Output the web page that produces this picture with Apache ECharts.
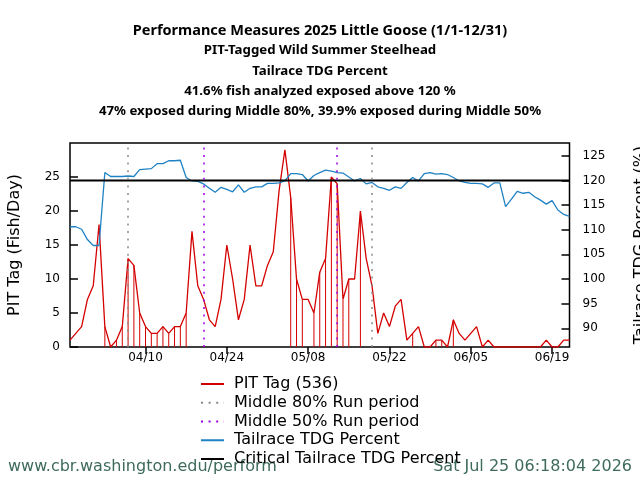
<!DOCTYPE html>
<html>
<head>
<meta charset="utf-8">
<script src="https://cdn.jsdelivr.net/npm/echarts@6/dist/echarts.min.js"></script>
<style>
    html, body {margin: 0; padding: 0; background: #fff;}
    #app {width: 640px; height: 480px;}
</style>
</head>
<body>
<div id="app"></div>
<script>
//天数从 03/28 开始 (day 0)
var pitTag = [1, 2, 3, 7, 9, 18, 3, 0, 1, 3,
    13, 12, 5, 3, 2, 2, 3, 2, 3, 3,
    5, 17, 9, 7, 4, 3, 7, 15, 10, 4,
    7, 15, 9, 9, 12, 14, 23, 29, 22, 10,
    7, 7, 5, 11, 13, 25, 24, 7, 10, 10,
    20, 13, 9, 2, 5, 3, 6, 7, 1, 2,
    3, 0, 0, 1, 1, 0, 4, 2, 1, 2,
    3, 0, 1, 0, 0, 0, 0, 0, 0, 0,
    0, 0, 1, 0, 0, 1, 1]

var tdgPercent = [110.6, 110.6, 110.1, 108.0, 106.8, 106.8, 121.6, 120.8, 120.8, 120.8,
    120.9, 120.8, 122.2, 122.3, 122.4, 123.4, 123.4, 124.0, 124.0, 124.1,
    120.6, 119.9, 119.8, 119.3, 118.4, 117.6, 118.6, 118.2, 117.7, 119.1,
    117.6, 118.4, 118.7, 118.7, 119.4, 119.4, 119.5, 119.9, 121.4, 121.4,
    121.2, 119.9, 121.0, 121.6, 122.1, 121.9, 121.6, 121.5, 120.7, 119.9,
    120.4, 119.3, 119.6, 118.7, 118.4, 118.0, 118.7, 118.4, 119.6, 120.6,
    119.9, 121.4, 121.6, 121.3, 121.4, 121.2, 120.6, 119.9, 119.6, 119.4,
    119.4, 119.3, 118.6, 119.5, 119.5, 114.7, 116.2, 117.8, 117.4, 117.6,
    116.7, 116.0, 115.2, 115.9, 114.0, 113.1, 112.7]

var criticalTdg = 120
var run80 = [10, 52]
var run50 = [23, 46]

var xTickDays = [13, 27, 41, 55, 69, 83]
var xTickLabels = ['04/10', '04/24', '05/08', '05/22', '06/05', '06/19']
var rightTicks = [90, 95, 100, 105, 110, 115, 120, 125]

var titleMain = 'Performance Measures 2025 Little Goose (1/1-12/31)'
var titleLines = [
    'PIT-Tagged Wild Summer Steelhead',
    'Tailrace TDG Percent',
    '41.6% fish analyzed exposed above 120 %',
    '47% exposed during Middle 80%, 39.9% exposed during Middle 50%'
]

var lastDay = pitTag.length - 1
var pitData = pitTag.map((v, i) => [i, v])
var tdgData = tdgPercent.map((v, i) => [i, v])
var critData = [[0, criticalTdg], [lastDay, criticalTdg]]

//TDG 超过临界值的日子画竖线
var exposedData = []
for (var i = 0; i < pitTag.length; i++) {
    if (tdgPercent[i] > criticalTdg && pitTag[i] > 0) {
        exposedData.push([i, pitTag[i]])
    }
}

var font = 'DejaVu Sans'

var runLine = (days, color) => ({
    symbol: ['none', 'none'],
    silent: true,
    label: {show: false},
    lineStyle: {color: color, type: [2, 5.6], width: 1.5},
    data: days.map((d) => ({xAxis: d}))
})

var chart = echarts.init(document.getElementById('app'), null, {renderer: 'canvas'})

chart.setOption({
    animation: false,
    backgroundColor: '#fff',
    title: [
        {
            text: titleMain,
            left: 'center',
            top: 20.7,
            padding: 0,
            textStyle: {fontFamily: 'Noto Sans', fontSize: 14.5, fontWeight: 'bold', color: '#000', lineHeight: 20}
        },
        {
            text: titleLines.join('\n'),
            left: 'center',
            top: 40.5,
            padding: 0,
            textStyle: {fontFamily: 'Noto Sans', fontSize: 13.25, fontWeight: 'bold', color: '#000', lineHeight: 20.33}
        }
    ],
    legend: {
        orient: 'vertical',
        left: 195,
        top: 371,
        itemWidth: 23,
        itemHeight: 12,
        itemGap: 2.75,
        itemStyle: {opacity: 0},
        textStyle: {fontFamily: font, fontSize: 16, color: '#000', lineHeight: 16, padding: [0, 0, 0, 5]},
        data: ['PIT Tag (536)', 'Middle 80% Run period', 'Middle 50% Run period',
            'Tailrace TDG Percent', 'Critical Tailrace TDG Percent']
    },
    grid: {
        left: 70,
        right: 70.5,
        top: 143,
        bottom: 133,
        outerBoundsMode: 'none',
        containLabel: false,
        show: true,
        borderColor: '#000',
        borderWidth: 1.5
    },
    xAxis: {
        type: 'value',
        min: 0,
        max: lastDay,
        splitLine: {show: false},
        axisLine: {show: false},
        axisTick: {
            show: true,
            length: 7,
            lineStyle: {color: '#000', width: 1.5},
            customValues: xTickDays
        },
        axisLabel: {
            margin: 5,
            fontFamily: font,
            fontSize: 12,
            color: '#000',
            customValues: xTickDays,
            formatter: (v) => xTickLabels[xTickDays.indexOf(v)]
        }
    },
    yAxis: [
        {
            type: 'value',
            min: 0,
            max: 30,
            interval: 5,
            name: 'PIT Tag (Fish/Day)',
            nameLocation: 'middle',
            nameRotate: 90,
            nameGap: 47,
            nameTextStyle: {fontFamily: font, fontSize: 16, color: '#000'},
            splitLine: {show: false},
            axisLine: {show: false},
            axisTick: {inside: true, length: 8, lineStyle: {color: '#000', width: 1.5}},
            axisLabel: {margin: 10, fontFamily: font, fontSize: 12, color: '#000', showMaxLabel: false}
        },
        {
            type: 'value',
            position: 'right',
            min: 86.2,
            max: 127.6,
            name: 'Tailrace TDG Percent (%)',
            nameLocation: 'middle',
            nameRotate: 90,
            nameGap: 63,
            nameTextStyle: {fontFamily: font, fontSize: 16, color: '#000'},
            splitLine: {show: false},
            axisLine: {show: false},
            axisTick: {
                inside: true,
                length: 8,
                lineStyle: {color: '#000', width: 1.5},
                customValues: rightTicks
            },
            axisLabel: {
                margin: 13,
                fontFamily: font,
                fontSize: 12,
                color: '#000',
                customValues: rightTicks
            }
        }
    ],
    series: [
        {
            name: 'exposed',
            type: 'bar',
            barWidth: 1,
            silent: true,
            itemStyle: {color: '#d40000'},
            data: exposedData
        },
        {
            name: 'PIT Tag (536)',
            type: 'line',
            symbol: 'none',
            color: '#d40000',
            lineStyle: {color: '#d40000', width: 1.3},
            data: pitData
        },
        {
            name: 'Middle 80% Run period',
            type: 'line',
            symbol: 'none',
            color: '#888',
            lineStyle: {color: '#888', type: [2, 5.6], width: 1.5},
            data: [],
            markLine: runLine(run80, '#888')
        },
        {
            name: 'Middle 50% Run period',
            type: 'line',
            symbol: 'none',
            color: '#9b00e6',
            lineStyle: {color: '#9b00e6', type: [2, 5.6], width: 1.5},
            data: [],
            markLine: runLine(run50, '#9b00e6')
        },
        {
            name: 'Tailrace TDG Percent',
            type: 'line',
            yAxisIndex: 1,
            symbol: 'none',
            color: '#1f82c4',
            lineStyle: {color: '#1f82c4', width: 1.3},
            data: tdgData
        },
        {
            name: 'Critical Tailrace TDG Percent',
            type: 'line',
            yAxisIndex: 1,
            symbol: 'none',
            color: '#000',
            lineStyle: {color: '#000', width: 2},
            data: critData
        }
    ],
    graphic: [
        {
            type: 'text',
            left: 8,
            top: 459,
            style: {text: 'www.cbr.washington.edu/perform', font: '16px "DejaVu Sans"', fill: '#3e6b5b'}
        },
        {
            type: 'text',
            right: 8,
            top: 459,
            style: {text: 'Sat Jul 25 06:18:04 2026', font: '16px "DejaVu Sans"', fill: '#3e6b5b'}
        }
    ]
})
</script>
</body>
</html>
